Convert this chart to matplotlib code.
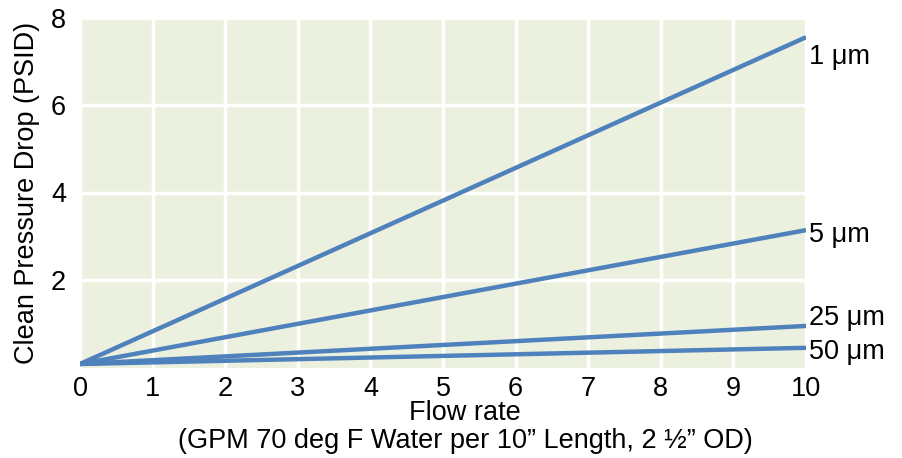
import matplotlib.pyplot as plt

plt.rcParams['font.family'] = ['Liberation Sans', 'DejaVu Sans']

# flow rate (GPM) and clean pressure drop (PSID) per media grade
flow = [0, 10]
grades = ['1 μm', '5 μm', '25 μm', '50 μm']
drop_1um = [0.08, 7.55]
drop_5um = [0.08, 3.14]
drop_25um = [0.08, 0.95]
drop_50um = [0.08, 0.45]
series = [drop_1um, drop_5um, drop_25um, drop_50um]
label_offsets = [-0.45, -0.1, 0.18, -0.1]  # nudge labels vertically (data units)

fs = 19.5

fig = plt.figure(figsize=(9.02, 4.58), dpi=100)
ax = fig.add_axes([80/902, 1-367.5/458, 726/902, 350/458])
ax.set_facecolor('#EBF1DE')

for name, ys, off in zip(grades, series, label_offsets):
    ax.plot(flow, ys, color='#4F81BD', lw=3.2, solid_capstyle='butt', zorder=3)
    ax.text(flow[-1] + 0.04, ys[-1] + off, name, fontsize=fs, va='center', ha='left',
            clip_on=False)

ax.set_xlim(0, 10)
ax.set_ylim(0, 8)
ax.set_xticks(range(0, 11))
ax.set_yticks([2, 4, 6, 8])
ax.tick_params(length=0, labelsize=fs, pad=6)
ax.tick_params(axis='y', pad=10)
ax.grid(True, color='white', lw=2.5)
ax.set_axisbelow(True)
for s in ax.spines.values():
    s.set_visible(False)

ax.set_ylabel('Clean Pressure Drop (PSID)', fontsize=fs)
ax.yaxis.set_label_coords(-40/726, 0.5)
fig.text(465/902, 1-413/458, 'Flow rate', fontsize=fs, ha='center', va='center')
fig.text(465/902, 1-441/458, '(GPM 70 deg F Water per 10\u201d Length, 2 \u00bd\u201d OD)',
         fontsize=fs, ha='center', va='center')

fig.savefig('out.png', dpi=100)
